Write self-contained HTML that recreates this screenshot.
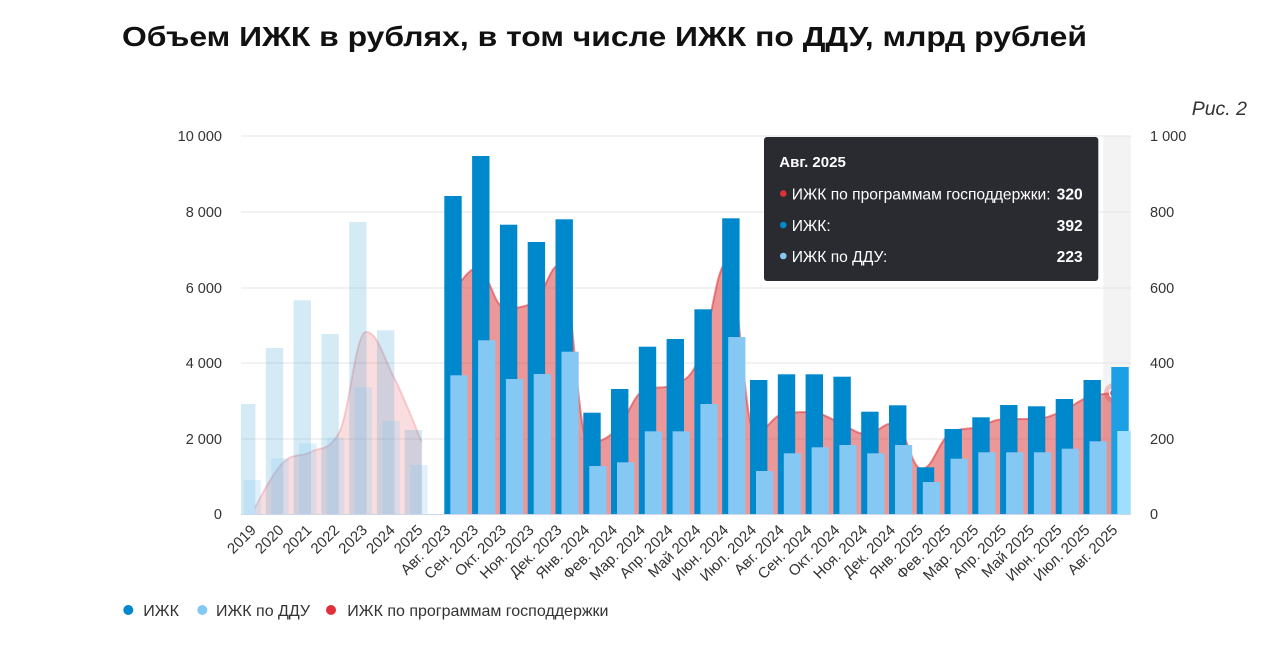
<!DOCTYPE html>
<html><head><meta charset="utf-8"><style>
html,body{margin:0;padding:0;background:#fff;}
svg{display:block;font-family:"Liberation Sans","Noto Sans CJK SC",sans-serif;}
</style></head><body>
<svg width="1284" height="646" viewBox="0 0 1284 646" xmlns="http://www.w3.org/2000/svg">
<defs><clipPath id="pa"><rect x="241" y="130" width="889.7" height="384.5"/></clipPath></defs>
<rect width="1284" height="646" fill="#fff"/>
<text x="122" y="46" font-size="28" font-weight="bold" fill="#111" textLength="965" lengthAdjust="spacingAndGlyphs">Объем ИЖК в рублях, в том числе ИЖК по ДДУ, млрд рублей</text>
<text x="1247" y="115" font-size="19.5" font-style="italic" fill="#333" text-anchor="end">Рис. 2</text>

<rect x="1103.3" y="136" width="27.4" height="378" fill="#f3f3f3"/>
<g stroke="#e6e6e6" stroke-width="1">
<line x1="241" y1="136" x2="1131" y2="136"/>
<line x1="241" y1="212" x2="1131" y2="212"/>
<line x1="241" y1="288" x2="1131" y2="288"/>
<line x1="241" y1="363" x2="1131" y2="363"/>
<line x1="241" y1="439" x2="1131" y2="439"/>
</g>

<g font-size="14.5" fill="#333" text-anchor="end">
<text x="222" y="141">10 000</text>
<text x="222" y="217">8 000</text>
<text x="222" y="293">6 000</text>
<text x="222" y="368">4 000</text>
<text x="222" y="444">2 000</text>
<text x="222" y="519">0</text>
</g>
<g font-size="14.5" fill="#333">
<text x="1150" y="141">1 000</text>
<text x="1150" y="217">800</text>
<text x="1150" y="293">600</text>
<text x="1150" y="368">400</text>
<text x="1150" y="444">200</text>
<text x="1150" y="519">0</text>
</g>

<g clip-path="url(#pa)">
<path d="M254.9,514 L254.9,508 C254.9,508 271.6,474 282.7,463 C293.8,452 299.4,457.8 310.5,452 C321.6,446.2 327.2,452 338.3,434 C349.4,416 355,332 366.1,332 C377.2,332 382.7,355 393.8,377 C404.9,399 421.6,442 421.6,442 L421.6,514 Z" fill="#e0313a" fill-opacity="0.16"/>
<path d="M254.9,508 C254.9,508 271.6,474 282.7,463 C293.8,452 299.4,457.8 310.5,452 C321.6,446.2 327.2,452 338.3,434 C349.4,416 355,332 366.1,332 C377.2,332 382.7,355 393.8,377 C404.9,399 421.6,442 421.6,442" fill="none" stroke="#e0313a" stroke-opacity="0.2" stroke-width="2"/>
<g fill="#0088cc" fill-opacity="0.17">
<rect x="238" y="404" width="17.4" height="110"/>
<rect x="265.8" y="348" width="17.4" height="166"/>
<rect x="293.6" y="300.3" width="17.4" height="213.7"/>
<rect x="321.4" y="334" width="17.4" height="180"/>
<rect x="349.2" y="222" width="17.4" height="292"/>
<rect x="376.9" y="330.3" width="17.4" height="183.7"/>
<rect x="404.7" y="430" width="17.4" height="84"/>
</g>
<g fill="#85c8f3" fill-opacity="0.25">
<rect x="243.5" y="480" width="17.4" height="34"/>
<rect x="271.3" y="458.3" width="17.4" height="55.7"/>
<rect x="299.1" y="443.3" width="17.4" height="70.7"/>
<rect x="326.9" y="437.7" width="17.4" height="76.3"/>
<rect x="354.7" y="387.3" width="17.4" height="126.7"/>
<rect x="382.4" y="421" width="17.4" height="93"/>
<rect x="410.2" y="465" width="17.4" height="49"/>
</g>

<path d="M449.4,514 L449.4,300 C449.4,300 466.1,268 477.2,268 C488.3,268 493.9,308 505,308 C516.1,308 521.7,308 532.8,303 C543.9,298 549.5,264 560.6,264 C571.7,264 577.3,442 588.4,442 C599.5,442 605.1,440.4 616.2,430 C627.3,419.6 632.9,395 644,390 C655.1,385 660.6,390 671.7,385 C682.8,380 688.4,382.6 699.5,358 C710.6,333.4 716.2,262 727.3,262 C738.4,262 744,433 755.1,433 C766.2,433 771.8,416 782.9,414 C794,412 799.6,412 810.7,412 C821.8,412 827.3,417.6 838.4,422 C849.5,426.4 855.1,434 866.2,434 C877.3,434 882.9,423 894,423 C905.1,423 910.7,469 921.8,469 C932.9,469 938.5,441 949.6,434 C960.7,427 966.3,430 977.4,427 C988.5,424 994.1,419 1005.2,419 C1016.3,419 1021.9,419 1033,419 C1044.1,419 1049.6,416.4 1060.7,412 C1071.8,407.6 1077.4,400.8 1088.5,397 C1099.6,393.2 1116.3,393 1116.3,393 L1116.3,514 Z" fill="#dc3232" fill-opacity="0.5"/>
<path d="M449.4,300 C449.4,300 466.1,268 477.2,268 C488.3,268 493.9,308 505,308 C516.1,308 521.7,308 532.8,303 C543.9,298 549.5,264 560.6,264 C571.7,264 577.3,442 588.4,442 C599.5,442 605.1,440.4 616.2,430 C627.3,419.6 632.9,395 644,390 C655.1,385 660.6,390 671.7,385 C682.8,380 688.4,382.6 699.5,358 C710.6,333.4 716.2,262 727.3,262 C738.4,262 744,433 755.1,433 C766.2,433 771.8,416 782.9,414 C794,412 799.6,412 810.7,412 C821.8,412 827.3,417.6 838.4,422 C849.5,426.4 855.1,434 866.2,434 C877.3,434 882.9,423 894,423 C905.1,423 910.7,469 921.8,469 C932.9,469 938.5,441 949.6,434 C960.7,427 966.3,430 977.4,427 C988.5,424 994.1,419 1005.2,419 C1016.3,419 1021.9,419 1033,419 C1044.1,419 1049.6,416.4 1060.7,412 C1071.8,407.6 1077.4,400.8 1088.5,397 C1099.6,393.2 1116.3,393 1116.3,393" fill="none" stroke="#e0313a" stroke-opacity="0.55" stroke-width="2"/>
<circle cx="1114" cy="393" r="10" fill="#e0313a" fill-opacity="0.25"/>
<circle cx="1114" cy="393" r="4.5" fill="#e0313a" stroke="#fff" stroke-width="1.5"/>

<g fill="#0088cc">
<rect x="444.3" y="196" width="17.4" height="318"/>
<rect x="472.1" y="156" width="17.4" height="358"/>
<rect x="499.9" y="224.7" width="17.4" height="289.3"/>
<rect x="527.7" y="242" width="17.4" height="272"/>
<rect x="555.5" y="219.3" width="17.4" height="294.7"/>
<rect x="583.3" y="412.7" width="17.4" height="101.3"/>
<rect x="611.0" y="389" width="17.4" height="125"/>
<rect x="638.8" y="346.7" width="17.4" height="167.3"/>
<rect x="666.6" y="339" width="17.4" height="175"/>
<rect x="694.4" y="309.3" width="17.4" height="204.7"/>
<rect x="722.2" y="218.3" width="17.4" height="295.7"/>
<rect x="750.0" y="380" width="17.4" height="134"/>
<rect x="777.8" y="374.3" width="17.4" height="139.7"/>
<rect x="805.6" y="374.3" width="17.4" height="139.7"/>
<rect x="833.4" y="376.7" width="17.4" height="137.3"/>
<rect x="861.2" y="411.7" width="17.4" height="102.3"/>
<rect x="889.0" y="405.3" width="17.4" height="108.7"/>
<rect x="916.8" y="467.3" width="17.4" height="46.7"/>
<rect x="944.5" y="429" width="17.4" height="85"/>
<rect x="972.3" y="417.3" width="17.4" height="96.7"/>
<rect x="1000.1" y="405" width="17.4" height="109"/>
<rect x="1027.9" y="406.3" width="17.4" height="107.7"/>
<rect x="1055.7" y="399" width="17.4" height="115"/>
<rect x="1083.5" y="380" width="17.4" height="134"/>
</g>
<rect x="1111.3" y="367" width="17.4" height="147" fill="#1c9fe4"/>
<g fill="#85c8f3">
<rect x="450.3" y="375.3" width="17.2" height="138.7"/>
<rect x="478.1" y="340.3" width="17.2" height="173.7"/>
<rect x="505.9" y="379" width="17.2" height="135"/>
<rect x="533.7" y="374" width="17.2" height="140"/>
<rect x="561.5" y="351.7" width="17.2" height="162.3"/>
<rect x="589.3" y="466" width="17.2" height="48"/>
<rect x="617.0" y="462.3" width="17.2" height="51.7"/>
<rect x="644.8" y="431.3" width="17.2" height="82.7"/>
<rect x="672.6" y="431.3" width="17.2" height="82.7"/>
<rect x="700.4" y="404" width="17.2" height="110"/>
<rect x="728.2" y="337" width="17.2" height="177"/>
<rect x="756.0" y="471" width="17.2" height="43"/>
<rect x="783.8" y="453.3" width="17.2" height="60.7"/>
<rect x="811.6" y="447.3" width="17.2" height="66.7"/>
<rect x="839.4" y="445" width="17.2" height="69"/>
<rect x="867.2" y="453.3" width="17.2" height="60.7"/>
<rect x="895.0" y="445" width="17.2" height="69"/>
<rect x="922.8" y="482" width="17.2" height="32"/>
<rect x="950.5" y="458.7" width="17.2" height="55.3"/>
<rect x="978.3" y="452.3" width="17.2" height="61.7"/>
<rect x="1006.1" y="452.3" width="17.2" height="61.7"/>
<rect x="1033.9" y="452.3" width="17.2" height="61.7"/>
<rect x="1061.7" y="448.7" width="17.2" height="65.3"/>
<rect x="1089.5" y="441.3" width="17.2" height="72.7"/>
</g>
<rect x="1117.3" y="431" width="17.2" height="83" fill="#9ddffd"/>
</g>
<line x1="241" y1="514.5" x2="1131" y2="514.5" stroke="#ccd6eb" stroke-width="1"/>

<g font-size="15" fill="#333" text-anchor="end">
<text transform="translate(256.9,531) rotate(-45)">2019</text>
<text transform="translate(284.7,531) rotate(-45)">2020</text>
<text transform="translate(312.5,531) rotate(-45)">2021</text>
<text transform="translate(340.3,531) rotate(-45)">2022</text>
<text transform="translate(368.1,531) rotate(-45)">2023</text>
<text transform="translate(395.9,531) rotate(-45)">2024</text>
<text transform="translate(423.6,531) rotate(-45)">2025</text>
<text transform="translate(451.4,531) rotate(-45)">Авг. 2023</text>
<text transform="translate(479.2,531) rotate(-45)">Сен. 2023</text>
<text transform="translate(507.0,531) rotate(-45)">Окт. 2023</text>
<text transform="translate(534.8,531) rotate(-45)">Ноя. 2023</text>
<text transform="translate(562.6,531) rotate(-45)">Дек. 2023</text>
<text transform="translate(590.4,531) rotate(-45)">Янв. 2024</text>
<text transform="translate(618.2,531) rotate(-45)">Фев. 2024</text>
<text transform="translate(646.0,531) rotate(-45)">Мар. 2024</text>
<text transform="translate(673.8,531) rotate(-45)">Апр. 2024</text>
<text transform="translate(701.5,531) rotate(-45)">Май 2024</text>
<text transform="translate(729.3,531) rotate(-45)">Июн. 2024</text>
<text transform="translate(757.1,531) rotate(-45)">Июл. 2024</text>
<text transform="translate(784.9,531) rotate(-45)">Авг. 2024</text>
<text transform="translate(812.7,531) rotate(-45)">Сен. 2024</text>
<text transform="translate(840.5,531) rotate(-45)">Окт. 2024</text>
<text transform="translate(868.3,531) rotate(-45)">Ноя. 2024</text>
<text transform="translate(896.1,531) rotate(-45)">Дек. 2024</text>
<text transform="translate(923.9,531) rotate(-45)">Янв. 2025</text>
<text transform="translate(951.7,531) rotate(-45)">Фев. 2025</text>
<text transform="translate(979.4,531) rotate(-45)">Мар. 2025</text>
<text transform="translate(1007.2,531) rotate(-45)">Апр. 2025</text>
<text transform="translate(1035.0,531) rotate(-45)">Май 2025</text>
<text transform="translate(1062.8,531) rotate(-45)">Июн. 2025</text>
<text transform="translate(1090.6,531) rotate(-45)">Июл. 2025</text>
<text transform="translate(1118.4,531) rotate(-45)">Авг. 2025</text>
</g>

<circle cx="128.3" cy="610" r="5" fill="#0088cc"/>
<text x="143.3" y="616" font-size="16" fill="#333">ИЖК</text>
<circle cx="202.3" cy="610" r="5" fill="#85c8f3"/>
<text x="216" y="616" font-size="16" fill="#333">ИЖК по ДДУ</text>
<circle cx="331" cy="610" r="5" fill="#e0313a"/>
<text x="347.3" y="616" font-size="16" fill="#333">ИЖК по программам господдержки</text>

<rect x="764" y="137" width="334.3" height="144" rx="3" fill="#2a2b30"/>
<text x="779.3" y="167" font-size="15" font-weight="bold" fill="#fff">Авг. 2025</text>
<circle cx="783.3" cy="193.5" r="3.3" fill="#e0313a"/>
<text x="791.7" y="199.5" font-size="15.6" fill="#fff">ИЖК по программам господдержки:</text>
<text x="1082.7" y="199.5" font-size="15.6" font-weight="bold" fill="#fff" text-anchor="end">320</text>
<circle cx="783.3" cy="225" r="3.3" fill="#0088cc"/>
<text x="791.7" y="231" font-size="15.6" fill="#fff">ИЖК:</text>
<text x="1082.7" y="231" font-size="15.6" font-weight="bold" fill="#fff" text-anchor="end">392</text>
<circle cx="783.3" cy="256" r="3.3" fill="#85c8f3"/>
<text x="791.7" y="262" font-size="15.6" fill="#fff">ИЖК по ДДУ:</text>
<text x="1082.7" y="262" font-size="15.6" font-weight="bold" fill="#fff" text-anchor="end">223</text>
</svg>
</body></html>
